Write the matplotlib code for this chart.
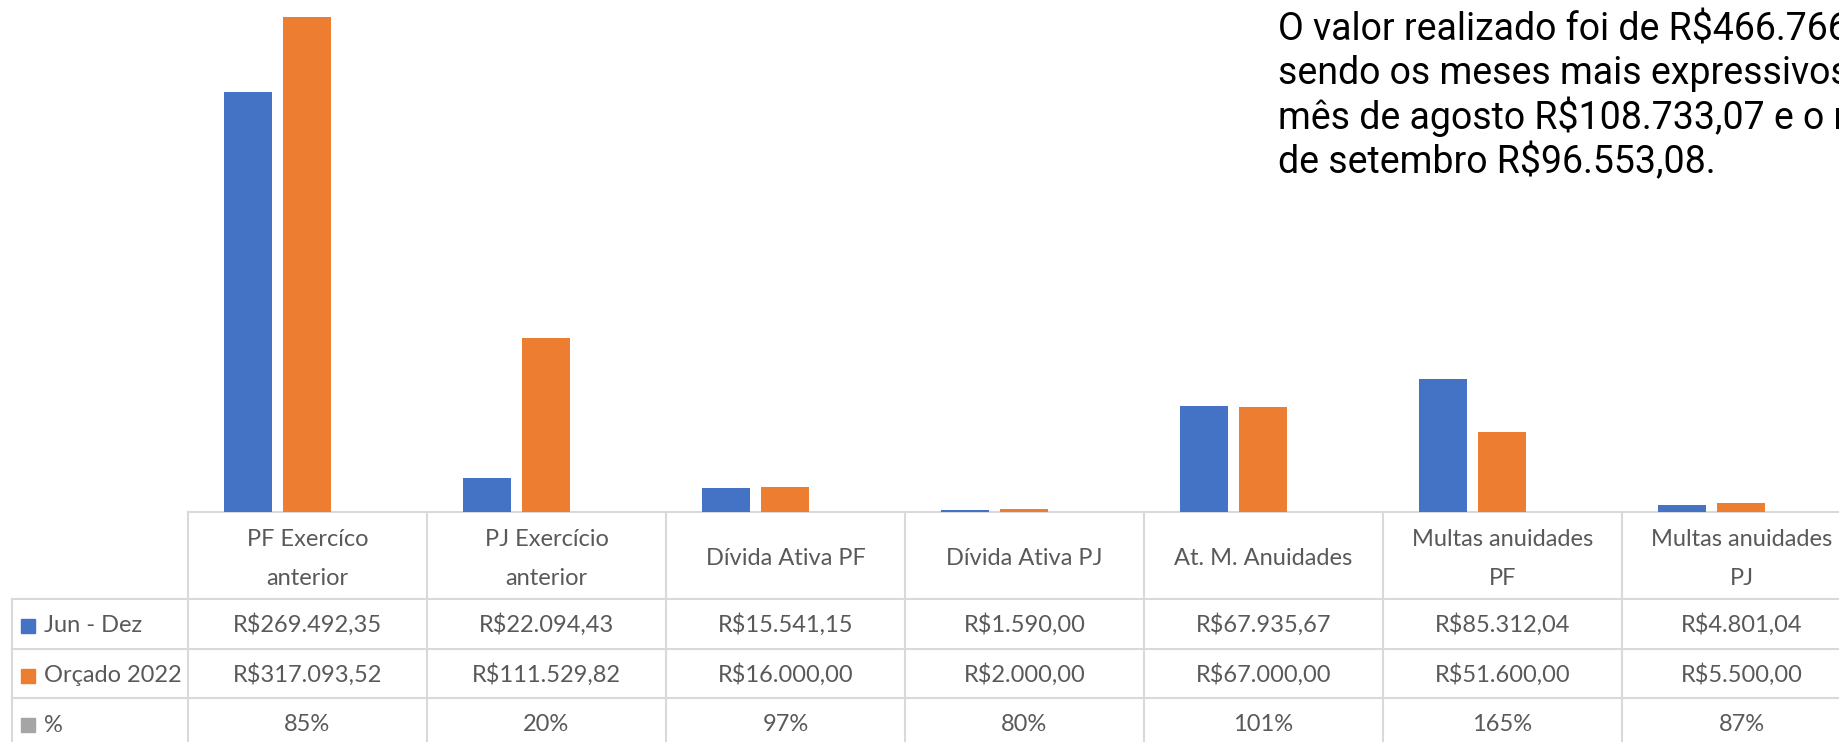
import matplotlib
matplotlib.use('Agg')
import matplotlib.pyplot as plt
import numpy as np

# data
categories = ['PF Exercíco\nanterior', 'PJ Exercício\nanterior', 'Dívida Ativa PF', 'Dívida Ativa PJ',
              'At. M. Anuidades', 'Multas anuidades\nPF', 'Multas anuidades\nPJ']
jun_dez = [269492.35, 22094.43, 15541.15, 1590.00, 67935.67, 85312.04, 4801.04]
orcado = [317093.52, 111529.82, 16000.00, 2000.00, 67000.00, 51600.00, 5500.00]
pct = [85, 20, 97, 80, 101, 165, 87]
series_names = ['Jun - Dez', 'Orçado 2022', '%']

note_lines = ['O valor realizado foi de R$466.766,68,',
              'sendo os meses mais expressivos o',
              'mês de agosto R$108.733,07 e o mês',
              'de setembro R$96.553,08.']

BLUE = '#4472C4'
ORANGE = '#ED7D31'
GREY = '#A5A5A5'
GRID = '#D9D9D9'
TXT = '#595959'

W, H = 1840, 742
COL0 = 188      # left edge of the first data column (px)
COLW = 239      # column width (px)
BASE = 512      # baseline / table top (px)
PX_PER_UNIT = 0.00156

plt.rcParams['font.family'] = ['Lato', 'DejaVu Sans']


def px(x):
    # pixel column -> category units
    return -0.375 + (x - COL0) / COLW


def brl(v):
    s = '{:,.2f}'.format(v)
    return 'R$' + s.replace(',', '#').replace('.', ',').replace('#', '.')


fig = plt.figure(figsize=(W / 100, H / 100), dpi=100)

# table layer
tab = fig.add_axes([0, 0, 1, 1])
tab.set_xlim(px(0), px(W))
tab.set_ylim(H, 0)
tab.axis('off')

# bars
ax = fig.add_axes([COL0 / W, (H - BASE) / H, 1 - COL0 / W, BASE / H])
x = np.arange(len(categories))
bw = 0.2
ax.bar(x - 0.123, jun_dez, bw, color=BLUE)
ax.bar(x + 0.123, orcado, bw, color=ORANGE)
ax.set_xlim(px(COL0), px(W))
ax.set_ylim(0, BASE / PX_PER_UNIT)
ax.axis('off')

rows = [BASE, 599, 649, 698, 748]
lw = 1.5
tab.plot([px(COL0), px(W)], [rows[0], rows[0]], color=GRID, lw=lw)
for r in rows[1:4]:
    tab.plot([px(12), px(W)], [r, r], color=GRID, lw=lw)
tab.plot([px(12), px(12)], [rows[1], H], color=GRID, lw=lw)
for i in range(len(categories) + 1):
    xb = i - 0.375
    tab.plot([xb, xb], [rows[0], H], color=GRID, lw=lw)

fs = 17
for i, cat in enumerate(categories):
    xc = i + 0.125
    parts = cat.split('\n')
    if len(parts) == 2:
        tab.text(xc, 546, parts[0], ha='center', va='baseline', fontsize=fs, color=TXT)
        tab.text(xc, 585, parts[1], ha='center', va='baseline', fontsize=fs, color=TXT)
    else:
        tab.text(xc, 565, parts[0], ha='center', va='baseline', fontsize=fs, color=TXT)
    tab.text(xc, 632, brl(jun_dez[i]), ha='center', va='baseline', fontsize=fs, color=TXT)
    tab.text(xc, 682, brl(orcado[i]), ha='center', va='baseline', fontsize=fs, color=TXT)
    tab.text(xc, 731, '{}%'.format(pct[i]), ha='center', va='baseline', fontsize=fs, color=TXT)

for k, (name, c) in enumerate(zip(series_names, [BLUE, ORANGE, GREY])):
    yc = (rows[k + 1] + rows[k + 2]) / 2
    tab.plot([px(28)], [yc + 2], marker='s', ms=10, color=c, mec=c)
    tab.text(px(44), yc + 8.5, name, ha='left', va='baseline', fontsize=fs, color=TXT)

# note on the top right
for j, line in enumerate(note_lines):
    tab.text(px(1278), 40 + j * 44.3, line, ha='left', va='baseline', fontsize=27,
             color='black', family='Roboto')

fig.savefig('out.png', dpi=100)
